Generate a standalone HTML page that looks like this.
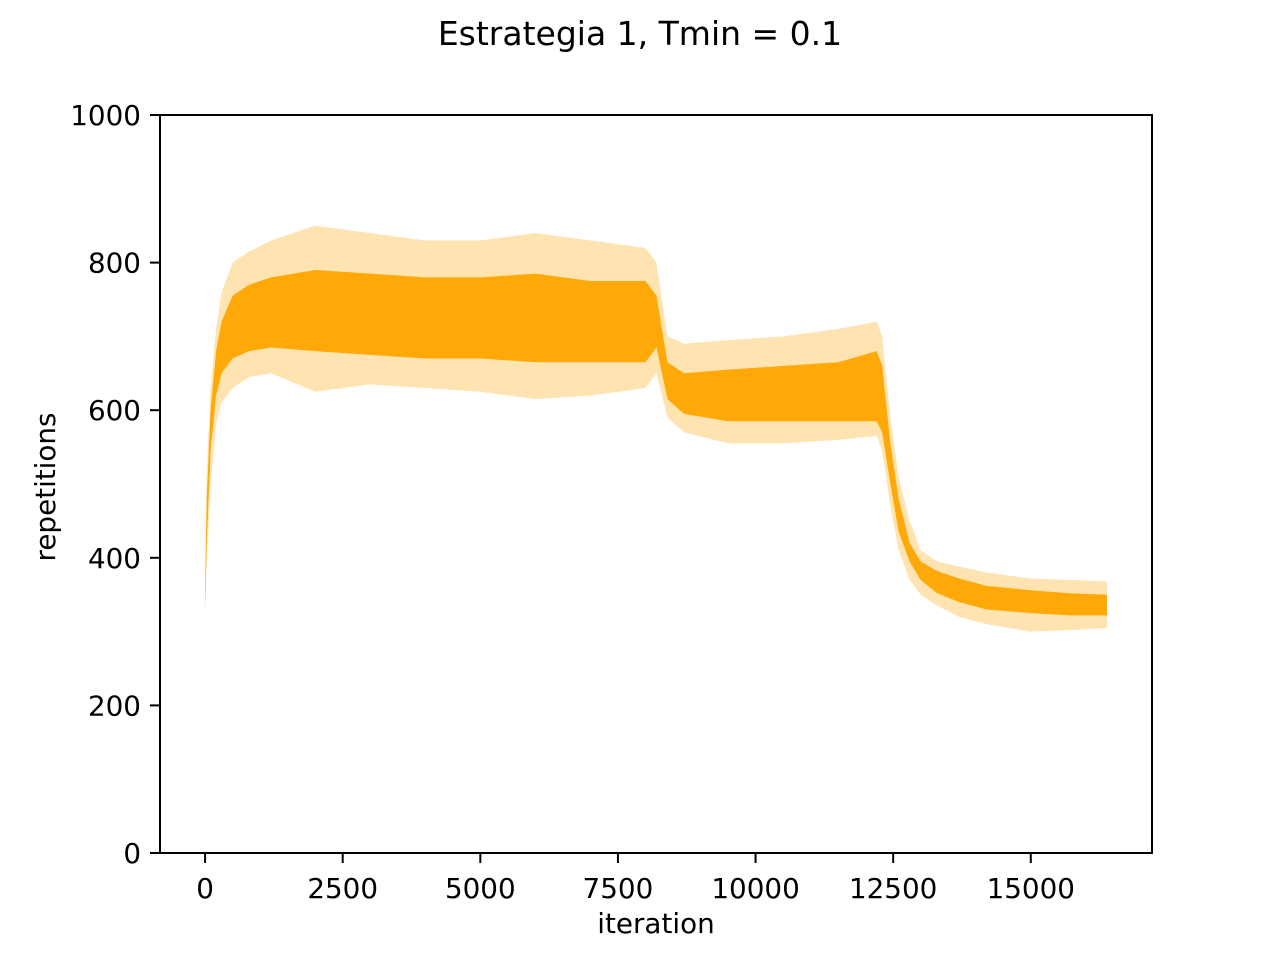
<!DOCTYPE html>
<html><head><meta charset="utf-8"><style>
body{margin:0;background:#fff;}
svg{display:block;font-family:"DejaVu Sans","Liberation Sans",sans-serif;}
</style></head><body>
<svg id="chart" width="1280" height="960" viewBox="0 0 1280 960" xmlns="http://www.w3.org/2000/svg">
<rect width="1280" height="960" fill="#fff"/>
<text x="640" y="45" font-size="33" text-anchor="middle">Estrategia 1, Tmin = 0.1</text>
<g id="bands"></g>
<rect x="160" y="115" width="992" height="738" fill="none" stroke="#000" stroke-width="2"/>
<g id="xticks"></g>
<g id="yticks"></g>
<text x="656" y="933" font-size="27.8" text-anchor="middle">iteration</text>
<text x="55" y="487" font-size="27.8" text-anchor="middle" transform="rotate(-90 55 487)">repetitions</text>
</svg>
<script>
const iters     = [0,   30,  100, 200, 300, 500, 800, 1200, 2000, 3000, 4000, 5000, 6000, 7000, 8000, 8200, 8400, 8700, 9500, 10500, 11500, 12200, 12300, 12450, 12600, 12800, 13000, 13300, 13700, 14200, 15000, 15700, 16383];
const outerLow  = [325, 390, 500, 580, 610, 630, 645, 650, 625, 635, 630, 625, 615, 620, 630, 650, 590, 570, 555, 555, 560, 565, 545, 470, 410, 370, 350, 335, 320, 310, 300, 302, 305];
const outerHigh = [365, 520, 630, 710, 760, 800, 815, 830, 850, 840, 830, 830, 840, 830, 820, 800, 700, 690, 695, 700, 710, 720, 700, 590, 510, 450, 410, 395, 388, 380, 372, 370, 368];
const coreLow   = [335, 420, 545, 620, 650, 670, 680, 685, 680, 675, 670, 670, 665, 665, 665, 685, 615, 595, 585, 585, 585, 585, 570, 500, 435, 395, 370, 352, 340, 330, 325, 322, 322];
const coreHigh  = [355, 480, 600, 680, 720, 755, 770, 780, 790, 785, 780, 780, 785, 775, 775, 755, 665, 650, 655, 660, 665, 680, 660, 555, 480, 420, 395, 382, 372, 362, 356, 352, 350];
const xTicks = [0,2500,5000,7500,10000,12500,15000];
const yTicks = [0,200,400,600,800,1000];

const NS="http://www.w3.org/2000/svg";
const X0=-819, X1=17202, PL=160, PR=1152, PT=115, PB=853;
const sx=v=>PL+(v-X0)/(X1-X0)*(PR-PL);
const sy=v=>PB-v/1000*(PB-PT);
function band(lo,hi,fill,op,name){
  const pts=iters.map((t,i)=>sx(t)+","+sy(hi[i]));
  for(let i=iters.length-1;i>=0;i--) pts.push(sx(iters[i])+","+sy(lo[i]));
  const p=document.createElementNS(NS,"polygon");
  p.setAttribute("points",pts.join(" "));
  p.setAttribute("fill",fill);p.setAttribute("fill-opacity",op);
  
  
  document.getElementById("bands").appendChild(p);
}
band(outerLow,outerHigh,"#ffa500",0.3,"outer-band");
band(coreLow,coreHigh,"#ffa500",0.95,"core-band");
const xg=document.getElementById("xticks");
xTicks.forEach(t=>{
  const l=document.createElementNS(NS,"line");
  l.setAttribute("x1",sx(t));l.setAttribute("x2",sx(t));l.setAttribute("y1",PB);l.setAttribute("y2",PB+10);
  l.setAttribute("stroke","#000");l.setAttribute("stroke-width","2");
  
  
  xg.appendChild(l);
  const tx=document.createElementNS(NS,"text");
  tx.setAttribute("x",sx(t));tx.setAttribute("y",PB+45);tx.setAttribute("font-size","27.8");tx.setAttribute("text-anchor","middle");
  tx.textContent=t;
  
  
  xg.appendChild(tx);
});
const yg=document.getElementById("yticks");
yTicks.forEach(t=>{
  const l=document.createElementNS(NS,"line");
  l.setAttribute("x1",PL-10);l.setAttribute("x2",PL);l.setAttribute("y1",sy(t));l.setAttribute("y2",sy(t));
  l.setAttribute("stroke","#000");l.setAttribute("stroke-width","2");
  
  
  yg.appendChild(l);
  const tx=document.createElementNS(NS,"text");
  tx.setAttribute("x",PL-19);tx.setAttribute("y",sy(t)+10);tx.setAttribute("font-size","27.8");tx.setAttribute("text-anchor","end");
  tx.textContent=t;
  
  
  yg.appendChild(tx);
});
</script>
</body></html>
